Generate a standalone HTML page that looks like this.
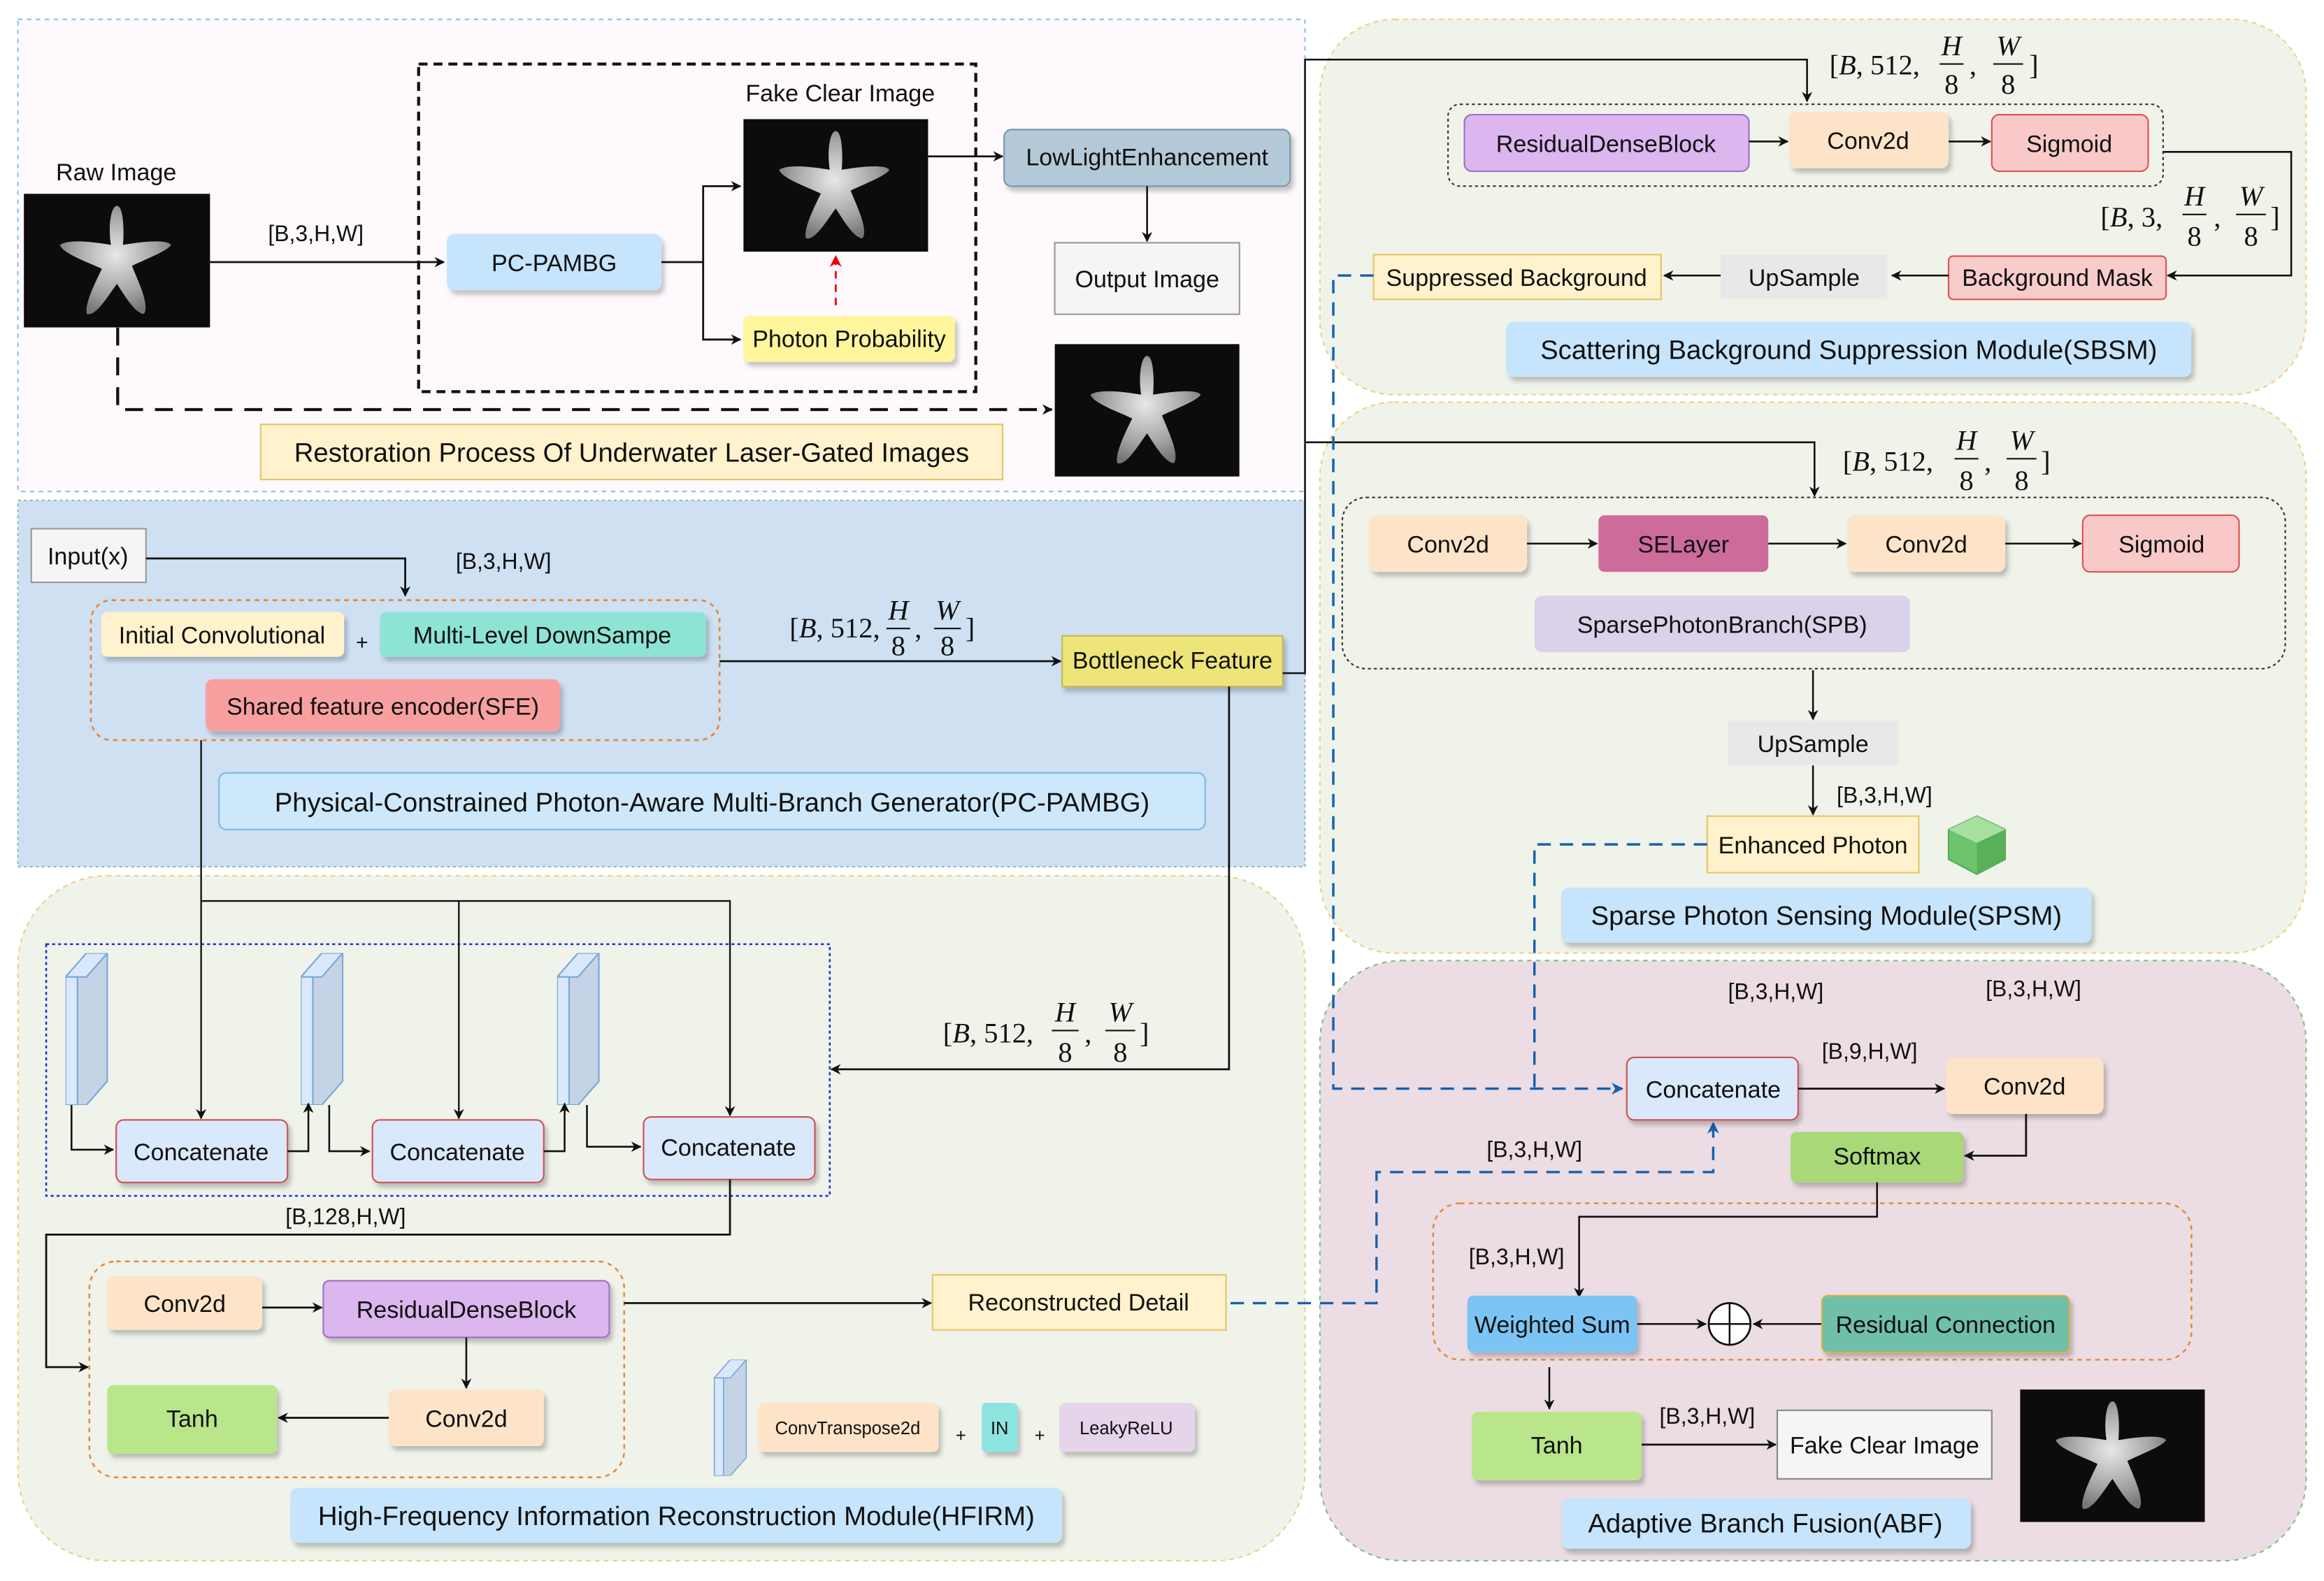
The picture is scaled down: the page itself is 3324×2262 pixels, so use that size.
<!DOCTYPE html>
<html><head><meta charset="utf-8"><style>html,body{margin:0;padding:0;background:#fff}svg{display:block}text{font-family:"Liberation Sans",sans-serif;fill:#111}.m{font-family:"Liberation Serif",serif;font-size:19px}.mi{font-family:"Liberation Serif",serif;font-style:italic;font-size:19px}</style></head><body>
<svg width="3324" height="2262" viewBox="0 0 1560 1061.6" preserveAspectRatio="none" xmlns="http://www.w3.org/2000/svg">
<defs>
<marker id="a" viewBox="0 0 10 10" refX="9" refY="5" markerWidth="7" markerHeight="7" orient="auto-start-reverse" markerUnits="userSpaceOnUse"><path d="M0,0 L10,5 L0,10 L3,5z" fill="#111"/></marker>
<marker id="ab" viewBox="0 0 10 10" refX="9" refY="5" markerWidth="8" markerHeight="8" orient="auto" markerUnits="userSpaceOnUse"><path d="M0,0 L10,5 L0,10 L3,5z" fill="#1560b0"/></marker>
<marker id="ar" viewBox="0 0 10 10" refX="9" refY="5" markerWidth="8" markerHeight="8" orient="auto" markerUnits="userSpaceOnUse"><path d="M0,0 L10,5 L0,10 L3,5z" fill="#e00"/></marker>
<filter id="s" x="-10%" y="-10%" width="130%" height="140%"><feDropShadow dx="2" dy="3" stdDeviation="1.5" flood-color="#000" flood-opacity="0.22"/></filter>
<radialGradient id="sg" cx="50%" cy="45%" r="55%"><stop offset="0" stop-color="#e8e8e8"/><stop offset="0.7" stop-color="#a0a0a0"/><stop offset="1" stop-color="#777"/></radialGradient>
<symbol id="star" viewBox="0 0 124 89"><rect width="124" height="89" fill="#0c0c0c"/><path d="M62,8 C66,8 67,22 66,34 C78,32 95,30 98,34 C96,38 80,44 72,48 C76,58 84,74 80,80 C74,80 66,66 62,60 C56,68 48,82 42,80 C40,74 48,58 52,50 C44,46 26,40 24,34 C30,30 46,32 58,34 C56,22 58,8 62,8Z" fill="url(#sg)"/></symbol>
<symbol id="slab" viewBox="0 0 30 102"><path d="M0,16 L14,0 L28,0 L28,86 L14,102 L0,102Z" fill="#c4d3e6" stroke="#7aa7d8" stroke-width="1"/><path d="M0,16 L14,0 L28,0 L14,16Z" fill="#dae8fc" stroke="#7aa7d8"/><rect x="0" y="16" width="8" height="86" fill="#dae8fc" stroke="#7aa7d8"/></symbol>
</defs>

<!-- panels -->
<rect x="12" y="13" width="864" height="317" fill="#fdf9fc" stroke="#8ec0ec" stroke-dasharray="3,3"/>
<rect x="12" y="336" width="864" height="246" fill="#cfe0f3" stroke="#9bb" stroke-dasharray="2,2"/>
<rect x="12" y="588" width="864" height="460" rx="60" fill="#eff3ea" stroke="#f0d080" stroke-dasharray="3,3"/>
<rect x="886" y="13" width="662" height="252" rx="50" fill="#eff3ea" stroke="#f0d080" stroke-dasharray="3,3"/>
<rect x="886" y="270" width="662" height="370" rx="50" fill="#eff3ea" stroke="#f0d080" stroke-dasharray="3,3"/>
<rect x="886" y="645" width="662" height="403" rx="55" fill="#ebdde3" stroke="#80c080" stroke-dasharray="3,3"/>

<!-- TOP -->
<text x="78" y="121" font-size="16" text-anchor="middle">Raw Image</text>
<use href="#star" x="16" y="130" width="125" height="90"/>
<line x1="141" y1="176" x2="298" y2="176" stroke="#111" stroke-width="1.3" marker-end="url(#a)"/>
<text x="212" y="162" font-size="15" text-anchor="middle">[B,3,H,W]</text>
<rect x="281" y="43" width="374" height="220" fill="none" stroke="#111" stroke-width="2" stroke-dasharray="6,4"/>
<rect x="300" y="157" width="144" height="38" rx="5" fill="#c6e4fb" filter="url(#s)"/>
<text x="372" y="182" font-size="16" text-anchor="middle">PC-PAMBG</text>
<text x="564" y="68" font-size="16" text-anchor="middle">Fake Clear Image</text>
<use href="#star" x="499" y="80" width="124" height="89"/>
<path d="M444,176 H472 V125 H497" fill="none" stroke="#111" stroke-width="1.3" marker-end="url(#a)"/>
<path d="M472,176 V228 H497" fill="none" stroke="#111" stroke-width="1.3" marker-end="url(#a)"/>
<rect x="499" y="212" width="142" height="31" rx="4" fill="#fff59d" filter="url(#s)"/>
<text x="570" y="233" font-size="16" text-anchor="middle">Photon Probability</text>
<line x1="561" y1="205" x2="561" y2="172" stroke="#e00" stroke-width="1.3" stroke-dasharray="5,4" marker-end="url(#ar)"/>
<line x1="623" y1="105" x2="673" y2="105" stroke="#111" stroke-width="1.3" marker-end="url(#a)"/>
<rect x="674" y="87" width="192" height="38" rx="5" fill="#b4c9d8" stroke="#7a97ab" filter="url(#s)"/>
<text x="770" y="111" font-size="16" text-anchor="middle">LowLightEnhancement</text>
<line x1="770" y1="125" x2="770" y2="162" stroke="#111" stroke-width="1.2" marker-end="url(#a)"/>
<rect x="708" y="163" width="124" height="48" fill="#f5f5f5" stroke="#999"/>
<text x="770" y="193" font-size="16" text-anchor="middle" fill="#333">Output Image</text>
<use href="#star" x="708" y="231" width="124" height="89"/>
<path d="M79,220 V275 H706" fill="none" stroke="#111" stroke-width="2" stroke-dasharray="12,8" marker-end="url(#a)"/>
<rect x="175" y="285" width="498" height="37" fill="#fff2cc" stroke="#e8c36a"/>
<text x="424" y="310" font-size="18" text-anchor="middle">Restoration Process Of Underwater Laser-Gated Images</text>

<!-- PC-PAMBG -->
<rect x="21" y="355" width="77" height="36" fill="#f5f5f5" stroke="#999"/>
<text x="59" y="379" font-size="16" text-anchor="middle" fill="#333">Input(x)</text>
<path d="M98,375 H272 V400" fill="none" stroke="#111" stroke-width="1.3" marker-end="url(#a)"/>
<text x="338" y="382" font-size="15" text-anchor="middle">[B,3,H,W]</text>
<rect x="61" y="403" width="422" height="94" rx="14" fill="none" stroke="#e8883a" stroke-width="1.3" stroke-dasharray="3,3"/>
<rect x="68" y="411" width="163" height="30" rx="4" fill="#fff2cc" filter="url(#s)"/>
<text x="149" y="432" font-size="16" text-anchor="middle">Initial Convolutional</text>
<text x="243" y="436" font-size="14" text-anchor="middle">+</text>
<rect x="255" y="411" width="219" height="30" rx="4" fill="#8ee4d4" filter="url(#s)"/>
<text x="364" y="432" font-size="16" text-anchor="middle">Multi-Level DownSampe</text>
<rect x="138" y="456" width="238" height="35" rx="5" fill="#f8a0a0" filter="url(#s)"/>
<text x="257" y="480" font-size="16" text-anchor="middle">Shared feature encoder(SFE)</text>
<line x1="483" y1="444" x2="712" y2="444" stroke="#111" stroke-width="1.3" marker-end="url(#a)"/>
<g><text x="530" y="428" class="m">[<tspan class="mi">B</tspan>, 512,</text><text x="603" y="416" class="mi" text-anchor="middle">H</text><line x1="595" y1="422" x2="611" y2="422" stroke="#111"/><text x="603" y="440" class="m" text-anchor="middle">8</text><text x="614" y="428" class="m">,</text><text x="636" y="416" class="mi" text-anchor="middle">W</text><line x1="627" y1="422" x2="645" y2="422" stroke="#111"/><text x="636" y="440" class="m" text-anchor="middle">8</text><text x="648" y="428" class="m">]</text></g>
<rect x="713" y="427" width="148" height="34" fill="#eee57a" stroke="#c8b850" filter="url(#s)"/>
<text x="787" y="449" font-size="16" text-anchor="middle">Bottleneck Feature</text>
<rect x="147" y="519" width="662" height="38" rx="5" fill="#cde8fb" stroke="#7ab8e8"/>
<text x="478" y="545" font-size="18" text-anchor="middle">Physical-Constrained Photon-Aware Multi-Branch Generator(PC-PAMBG)</text>

<!-- connectors from bottleneck -->
<path d="M861,452 H876 V40 H1213 V68" fill="none" stroke="#111" stroke-width="1.2" marker-end="url(#a)"/>
<path d="M876,297 H1218 V333" fill="none" stroke="#111" stroke-width="1.2" marker-end="url(#a)"/>
<path d="M825,461 V718 H558" fill="none" stroke="#111" stroke-width="1.3" marker-end="url(#a)"/>

<!-- HFIRM -->
<rect x="31" y="634" width="526" height="169" fill="none" stroke="#2030d0" stroke-width="1.2" stroke-dasharray="2,2"/>
<use href="#slab" x="44" y="640" width="30" height="102"/>
<use href="#slab" x="202" y="640" width="30" height="102"/>
<use href="#slab" x="374" y="640" width="30" height="102"/>
<path d="M135,497 V751" fill="none" stroke="#111" stroke-width="1.1" marker-end="url(#a)"/>
<path d="M135,605 H490 V749" fill="none" stroke="#111" stroke-width="1.1" marker-end="url(#a)"/>
<path d="M308,605 V751" fill="none" stroke="#111" stroke-width="1.1" marker-end="url(#a)"/>
<rect x="78" y="752" width="115" height="42" rx="5" fill="#dae8fc" stroke="#d05050" filter="url(#s)"/>
<text x="135" y="779" font-size="16" text-anchor="middle">Concatenate</text>
<rect x="250" y="752" width="115" height="42" rx="5" fill="#dae8fc" stroke="#d05050" filter="url(#s)"/>
<text x="307" y="779" font-size="16" text-anchor="middle">Concatenate</text>
<rect x="432" y="750" width="115" height="42" rx="5" fill="#dae8fc" stroke="#d05050" filter="url(#s)"/>
<text x="489" y="776" font-size="16" text-anchor="middle">Concatenate</text>
<path d="M48,742 V772 H76" fill="none" stroke="#111" stroke-width="1.2" marker-end="url(#a)"/>
<path d="M193,773 H207 V741" fill="none" stroke="#111" stroke-width="1.2" marker-end="url(#a)"/>
<path d="M221,742 V773 H248" fill="none" stroke="#111" stroke-width="1.2" marker-end="url(#a)"/>
<path d="M365,773 H379 V741" fill="none" stroke="#111" stroke-width="1.2" marker-end="url(#a)"/>
<path d="M394,742 V770 H430" fill="none" stroke="#111" stroke-width="1.2" marker-end="url(#a)"/>
<g><text x="633" y="700" class="m">[<tspan class="mi">B</tspan>, 512,</text><text x="715" y="686" class="mi" text-anchor="middle">H</text><line x1="706" y1="692" x2="724" y2="692" stroke="#111"/><text x="715" y="713" class="m" text-anchor="middle">8</text><text x="728" y="700" class="m">,</text><text x="752" y="686" class="mi" text-anchor="middle">W</text><line x1="742" y1="692" x2="762" y2="692" stroke="#111"/><text x="752" y="713" class="m" text-anchor="middle">8</text><text x="765" y="700" class="m">]</text></g>
<text x="232" y="822" font-size="15" text-anchor="middle">[B,128,H,W]</text>
<path d="M490,792 V829 H31 V918 H59" fill="none" stroke="#111" stroke-width="1.3" marker-end="url(#a)"/>
<rect x="60" y="847" width="359" height="145" rx="18" fill="none" stroke="#e8883a" stroke-width="1.2" stroke-dasharray="3,3"/>
<rect x="72" y="857" width="104" height="36" rx="4" fill="#fde4c8" filter="url(#s)"/>
<text x="124" y="881" font-size="16" text-anchor="middle">Conv2d</text>
<line x1="176" y1="878" x2="216" y2="878" stroke="#111" stroke-width="1.3" marker-end="url(#a)"/>
<rect x="217" y="860" width="192" height="38" rx="4" fill="#dcb6ee" stroke="#a070c0" filter="url(#s)"/>
<text x="313" y="885" font-size="16" text-anchor="middle">ResidualDenseBlock</text>
<line x1="313" y1="898" x2="313" y2="932" stroke="#111" stroke-width="1.2" marker-end="url(#a)"/>
<rect x="261" y="933" width="104" height="38" rx="4" fill="#fde4c8" filter="url(#s)"/>
<text x="313" y="958" font-size="16" text-anchor="middle">Conv2d</text>
<line x1="261" y1="952" x2="187" y2="952" stroke="#111" stroke-width="1.3" marker-end="url(#a)"/>
<rect x="72" y="930" width="114" height="46" rx="4" fill="#b9e68a" filter="url(#s)"/>
<text x="129" y="958" font-size="16" text-anchor="middle">Tanh</text>
<line x1="419" y1="875" x2="625" y2="875" stroke="#111" stroke-width="1.3" marker-end="url(#a)"/>
<rect x="626" y="856" width="197" height="37" fill="#fff2cc" stroke="#e8c36a"/>
<text x="724" y="880" font-size="16" text-anchor="middle">Reconstructed Detail</text>
<use href="#slab" x="477" y="913" width="28" height="78"/>
<rect x="509" y="942" width="121" height="33" rx="4" fill="#fde4c8" filter="url(#s)"/>
<text x="569" y="963" font-size="12" text-anchor="middle">ConvTranspose2d</text>
<text x="645" y="968" font-size="12" text-anchor="middle">+</text>
<rect x="659" y="942" width="24" height="33" rx="3" fill="#8ee4e0" filter="url(#s)"/>
<text x="671" y="963" font-size="12" text-anchor="middle">IN</text>
<text x="698" y="968" font-size="12" text-anchor="middle">+</text>
<rect x="711" y="942" width="91" height="33" rx="4" fill="#e6d4ea" filter="url(#s)"/>
<text x="756" y="963" font-size="12" text-anchor="middle">LeakyReLU</text>
<rect x="195" y="999" width="518" height="37" rx="5" fill="#c6e4fb" filter="url(#s)"/>
<text x="454" y="1024" font-size="18" text-anchor="middle">High-Frequency Information Reconstruction Module(HFIRM)</text>

<!-- SBSM -->
<g><text x="1228" y="50" class="m">[<tspan class="mi">B</tspan>, 512,</text><text x="1310" y="37" class="mi" text-anchor="middle">H</text><line x1="1302" y1="43" x2="1318" y2="43" stroke="#111"/><text x="1310" y="63" class="m" text-anchor="middle">8</text><text x="1322" y="50" class="m">,</text><text x="1348" y="37" class="mi" text-anchor="middle">W</text><line x1="1338" y1="43" x2="1358" y2="43" stroke="#111"/><text x="1348" y="63" class="m" text-anchor="middle">8</text><text x="1362" y="50" class="m">]</text></g>
<rect x="972" y="70" width="480" height="55" rx="8" fill="none" stroke="#333" stroke-dasharray="2,2"/>
<rect x="983" y="77" width="191" height="38" rx="5" fill="#dcb6ee" stroke="#a070c0"/>
<text x="1078" y="102" font-size="16" text-anchor="middle">ResidualDenseBlock</text>
<line x1="1174" y1="95" x2="1200" y2="95" stroke="#111" stroke-width="1.2" marker-end="url(#a)"/>
<rect x="1201" y="75" width="107" height="38" rx="5" fill="#fde4c8" filter="url(#s)"/>
<text x="1254" y="100" font-size="16" text-anchor="middle">Conv2d</text>
<line x1="1308" y1="95" x2="1336" y2="95" stroke="#111" stroke-width="1.2" marker-end="url(#a)"/>
<rect x="1337" y="77" width="105" height="38" rx="5" fill="#f9c9c9" stroke="#e05050"/>
<text x="1389" y="102" font-size="16" text-anchor="middle">Sigmoid</text>
<path d="M1452,102 H1538 V185 H1455" fill="none" stroke="#111" stroke-width="1.2" marker-end="url(#a)"/>
<g><text x="1410" y="152" class="m">[<tspan class="mi">B</tspan>, 3,</text><text x="1473" y="138" class="mi" text-anchor="middle">H</text><line x1="1465" y1="144" x2="1481" y2="144" stroke="#111"/><text x="1473" y="165" class="m" text-anchor="middle">8</text><text x="1486" y="152" class="m">,</text><text x="1511" y="138" class="mi" text-anchor="middle">W</text><line x1="1501" y1="144" x2="1521" y2="144" stroke="#111"/><text x="1511" y="165" class="m" text-anchor="middle">8</text><text x="1524" y="152" class="m">]</text></g>
<rect x="1308" y="172" width="146" height="29" rx="3" fill="#f9cccc" stroke="#e05050"/>
<text x="1381" y="192" font-size="16" text-anchor="middle">Background Mask</text>
<line x1="1308" y1="185" x2="1270" y2="185" stroke="#111" stroke-width="1.2" marker-end="url(#a)"/>
<rect x="1155" y="171" width="112" height="30" fill="#e8e8e8"/>
<text x="1211" y="192" font-size="16" text-anchor="middle" fill="#444">UpSample</text>
<line x1="1155" y1="185" x2="1117" y2="185" stroke="#111" stroke-width="1.2" marker-end="url(#a)"/>
<rect x="922" y="171" width="193" height="30" fill="#fff2cc" stroke="#e8c36a"/>
<text x="1018" y="192" font-size="16" text-anchor="middle">Suppressed Background</text>
<rect x="1011" y="216" width="460" height="37" rx="5" fill="#c6e4fb" filter="url(#s)"/>
<text x="1241" y="241" font-size="18" text-anchor="middle">Scattering Background Suppression Module(SBSM)</text>

<!-- SPSM -->
<g><text x="1237" y="316" class="m">[<tspan class="mi">B</tspan>, 512,</text><text x="1320" y="302" class="mi" text-anchor="middle">H</text><line x1="1312" y1="308" x2="1328" y2="308" stroke="#111"/><text x="1320" y="329" class="m" text-anchor="middle">8</text><text x="1332" y="316" class="m">,</text><text x="1357" y="302" class="mi" text-anchor="middle">W</text><line x1="1347" y1="308" x2="1367" y2="308" stroke="#111"/><text x="1357" y="329" class="m" text-anchor="middle">8</text><text x="1370" y="316" class="m">]</text></g>
<rect x="901" y="334" width="633" height="115" rx="16" fill="none" stroke="#333" stroke-dasharray="2,2"/>
<rect x="919" y="346" width="106" height="38" rx="5" fill="#fde4c8" filter="url(#s)"/>
<text x="972" y="371" font-size="16" text-anchor="middle">Conv2d</text>
<line x1="1025" y1="365" x2="1072" y2="365" stroke="#111" stroke-width="1.2" marker-end="url(#a)"/>
<rect x="1073" y="346" width="114" height="38" rx="4" fill="#cd6b9b"/>
<text x="1130" y="371" font-size="16" text-anchor="middle">SELayer</text>
<line x1="1187" y1="365" x2="1239" y2="365" stroke="#111" stroke-width="1.2" marker-end="url(#a)"/>
<rect x="1240" y="346" width="106" height="38" rx="5" fill="#fde4c8" filter="url(#s)"/>
<text x="1293" y="371" font-size="16" text-anchor="middle">Conv2d</text>
<line x1="1346" y1="365" x2="1397" y2="365" stroke="#111" stroke-width="1.2" marker-end="url(#a)"/>
<rect x="1398" y="346" width="105" height="38" rx="5" fill="#f9c9c9" stroke="#e05050"/>
<text x="1451" y="371" font-size="16" text-anchor="middle">Sigmoid</text>
<rect x="1030" y="400" width="252" height="38" rx="5" fill="#d9d2ea"/>
<text x="1156" y="425" font-size="16" text-anchor="middle">SparsePhotonBranch(SPB)</text>
<line x1="1217" y1="450" x2="1217" y2="483" stroke="#111" stroke-width="1.2" marker-end="url(#a)"/>
<rect x="1160" y="484" width="114" height="30" fill="#e8e8e8"/>
<text x="1217" y="505" font-size="16" text-anchor="middle" fill="#444">UpSample</text>
<line x1="1217" y1="514" x2="1217" y2="547" stroke="#111" stroke-width="1.2" marker-end="url(#a)"/>
<text x="1265" y="539" font-size="15" text-anchor="middle">[B,3,H,W]</text>
<rect x="1146" y="548" width="142" height="38" fill="#fff2cc" stroke="#e8c36a"/>
<text x="1217" y="573" font-size="16" text-anchor="middle">Enhanced Photon</text>
<g><path d="M1327,548 L1346,557 L1346,577 L1327,587 L1308,577 L1308,557Z" fill="#6cc46c" stroke="#5aa85a"/><path d="M1327,548 L1346,557 L1327,566 L1308,557Z" fill="#a8e0a0"/><path d="M1327,566 L1346,557 L1346,577 L1327,587Z" fill="#58b058"/></g>
<rect x="1048" y="596" width="356" height="37" rx="5" fill="#c6e4fb" filter="url(#s)"/>
<text x="1226" y="621" font-size="18" text-anchor="middle">Sparse Photon Sensing Module(SPSM)</text>

<!-- blue dashed -->
<path d="M922,185 H895 V731 H1089" fill="none" stroke="#1560b0" stroke-width="1.6" stroke-dasharray="9,6" marker-end="url(#ab)"/>
<path d="M1146,567 H1030 V731" fill="none" stroke="#1560b0" stroke-width="1.6" stroke-dasharray="9,6"/>
<path d="M826,875 H924 V787 H1150 V754" fill="none" stroke="#1560b0" stroke-width="1.6" stroke-dasharray="9,6" marker-end="url(#ab)"/>

<!-- ABF -->
<text x="1192" y="671" font-size="15" text-anchor="middle">[B,3,H,W]</text>
<text x="1365" y="669" font-size="15" text-anchor="middle">[B,3,H,W]</text>
<rect x="1092" y="710" width="115" height="42" rx="5" fill="#dae8fc" stroke="#d05050" filter="url(#s)"/>
<text x="1150" y="737" font-size="16" text-anchor="middle">Concatenate</text>
<line x1="1207" y1="731" x2="1305" y2="731" stroke="#111" stroke-width="1.3" marker-end="url(#a)"/>
<text x="1255" y="711" font-size="15" text-anchor="middle">[B,9,H,W]</text>
<rect x="1306" y="710" width="106" height="38" rx="5" fill="#fde4c8" filter="url(#s)"/>
<text x="1359" y="735" font-size="16" text-anchor="middle">Conv2d</text>
<path d="M1360,748 V776 H1319" fill="none" stroke="#111" stroke-width="1.3" marker-end="url(#a)"/>
<rect x="1202" y="760" width="116" height="34" rx="4" fill="#a8d878" filter="url(#s)"/>
<text x="1260" y="782" font-size="16" text-anchor="middle">Softmax</text>
<text x="1030" y="777" font-size="15" text-anchor="middle">[B,3,H,W]</text>
<rect x="962" y="808" width="509" height="105" rx="18" fill="none" stroke="#e8883a" stroke-width="1.2" stroke-dasharray="3,3"/>
<path d="M1260,794 V817 H1060 V871" fill="none" stroke="#111" stroke-width="1.2" marker-end="url(#a)"/>
<text x="1018" y="849" font-size="15" text-anchor="middle">[B,3,H,W]</text>
<rect x="985" y="870" width="114" height="38" rx="4" fill="#7cc4f4" filter="url(#s)"/>
<text x="1042" y="895" font-size="16" text-anchor="middle">Weighted Sum</text>
<line x1="1099" y1="889" x2="1145" y2="889" stroke="#111" stroke-width="1.2" marker-end="url(#a)"/>
<circle cx="1161" cy="889" r="14" fill="#fff" stroke="#111" stroke-width="1.3"/>
<line x1="1147" y1="889" x2="1175" y2="889" stroke="#111" stroke-width="1.2"/><line x1="1161" y1="875" x2="1161" y2="903" stroke="#111" stroke-width="1.2"/>
<line x1="1223" y1="889" x2="1177" y2="889" stroke="#111" stroke-width="1.2" marker-end="url(#a)"/>
<rect x="1223" y="870" width="166" height="38" rx="4" fill="#70bfa8" stroke="#d8b040" filter="url(#s)"/>
<text x="1306" y="895" font-size="16" text-anchor="middle">Residual Connection</text>
<line x1="1040" y1="918" x2="1040" y2="946" stroke="#111" stroke-width="1.2" marker-end="url(#a)"/>
<rect x="988" y="948" width="114" height="46" rx="4" fill="#b9e68a" filter="url(#s)"/>
<text x="1045" y="976" font-size="16" text-anchor="middle">Tanh</text>
<line x1="1102" y1="970" x2="1192" y2="970" stroke="#111" stroke-width="1.3" marker-end="url(#a)"/>
<text x="1146" y="956" font-size="15" text-anchor="middle">[B,3,H,W]</text>
<rect x="1193" y="947" width="144" height="46" fill="#f5f5f5" stroke="#888"/>
<text x="1265" y="976" font-size="16" text-anchor="middle" fill="#333">Fake Clear Image</text>
<use href="#star" x="1356" y="933" width="124" height="89"/>
<rect x="1048" y="1006" width="275" height="34" rx="5" fill="#c6e4fb" filter="url(#s)"/>
<text x="1185" y="1029" font-size="18" text-anchor="middle">Adaptive Branch Fusion(ABF)</text>
</svg>
</body></html>
